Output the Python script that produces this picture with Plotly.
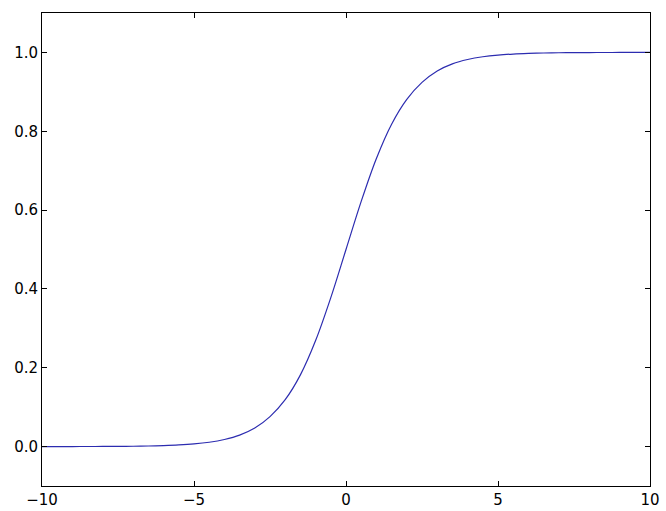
import plotly.graph_objects as go

x_vals = [-10, -9.5, -9, -8.5, -8, -7.5, -7, -6.5, -6, -5.5, -5, -4.5, -4, -3.5, -3, -2.5, -2, -1.5, -1, -0.5,
          0, 0.5, 1, 1.5, 2, 2.5, 3, 3.5, 4, 4.5, 5, 5.5, 6, 6.5, 7, 7.5, 8, 8.5, 9, 9.5, 10]
y_vals = [0.0000, 0.0001, 0.0001, 0.0002, 0.0003, 0.0006, 0.0009, 0.0015, 0.0025, 0.0041, 0.0067, 0.011, 0.018,
          0.029, 0.047, 0.076, 0.119, 0.182, 0.269, 0.378,
          0.500, 0.622, 0.731, 0.818, 0.881, 0.924, 0.953, 0.971, 0.982, 0.989, 0.9933, 0.9959, 0.9975, 0.9985,
          0.9991, 0.9994, 0.9997, 0.9998, 0.9999, 0.9999, 1.0000]
x_ticks = [-10, -5, 0, 5, 10]
x_tick_text = ["\u221210", "\u22125", "0", "5", "10"]
y_ticks = [0.0, 0.2, 0.4, 0.6, 0.8, 1.0]
y_tick_text = ["0.0", "0.2", "0.4", "0.6", "0.8", "1.0"]

fig = go.Figure()
fig.add_trace(go.Scatter(x=x_vals, y=y_vals, mode="lines",
                         line=dict(color="#2c2cb0", width=1.2, shape="spline"), showlegend=False))

axis_common = dict(showline=True, linecolor="black", linewidth=1, mirror="allticks",
                   ticks="inside", ticklen=5, tickcolor="black", tickwidth=1,
                   showgrid=False, zeroline=False, automargin=False,
                   tickfont=dict(family="DejaVu Sans", size=15, color="black"))
fig.update_xaxes(range=[-10, 10], tickvals=x_ticks, ticktext=x_tick_text, **axis_common)
fig.update_yaxes(range=[-0.1, 1.1], tickvals=y_ticks, ticktext=y_tick_text, **axis_common)

fig.update_layout(width=666, height=511, margin=dict(l=42, r=16, t=13, b=25),
                  plot_bgcolor="white", paper_bgcolor="white")
fig.write_html("out.html", config={"displayModeBar": False},
               post_script="document.body.style.margin='0';document.body.style.overflow='hidden';")
